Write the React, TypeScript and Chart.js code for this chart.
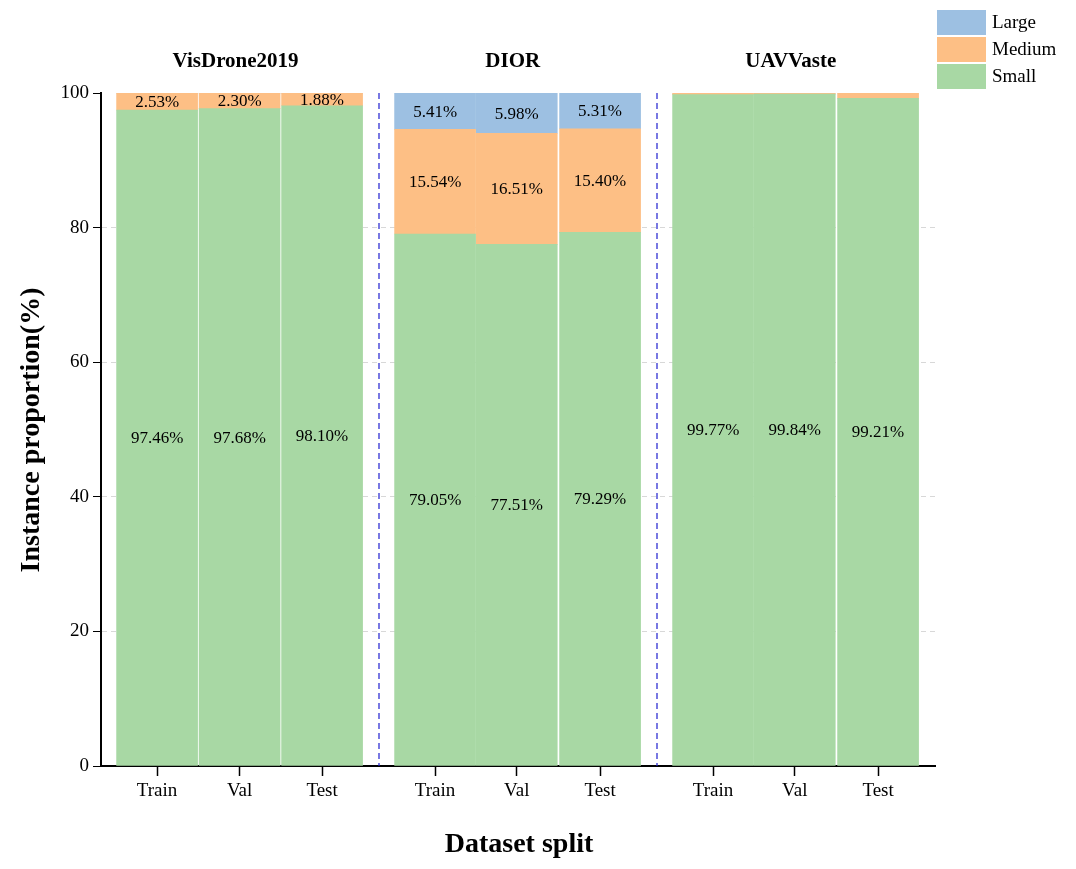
import React, { useEffect, useRef } from "react";
import { Chart, registerables } from "chart.js";
Chart.register(...registerables);

const groups = ["VisDrone2019", "DIOR", "UAVVaste"];
const splits = ["Train", "Val", "Test", "Train", "Val", "Test", "Train", "Val", "Test"];
const xPositions = [0.68, 1.68, 2.68, 4.05, 5.04, 6.05, 7.42, 8.41, 9.42];
const separators = [3.37, 6.74];
const smallVals = [97.46, 97.68, 98.1, 79.05, 77.51, 79.29, 99.77, 99.84, 99.21];
const mediumVals = [2.53, 2.3, 1.88, 15.54, 16.51, 15.4, 0.23, 0.16, 0.79];
const largeVals = [0.01, 0.02, 0.02, 5.41, 5.98, 5.31, 0, 0, 0];
const smallLabels = ["97.46%", "97.68%", "98.10%", "79.05%", "77.51%", "79.29%", "99.77%", "99.84%", "99.21%"];
const mediumLabels = ["2.53%", "2.30%", "1.88%", "15.54%", "16.51%", "15.40%", "", "", ""];
const largeLabels = ["", "", "", "5.41%", "5.98%", "5.31%", "", "", ""];

const SERIF = "'Liberation Serif', 'Times New Roman', serif";
const colors = { Small: "#a8d8a4", Medium: "#fdbf85", Large: "#9dc0e2" };

export default function App() {
  const ref = useRef<HTMLCanvasElement>(null);
  useEffect(() => {
    const pts = (vals: number[]) => vals.map((v, i) => ({ x: xPositions[i], y: v }));
    const labelSets = [smallLabels, mediumLabels, largeLabels];
    const plugin = {
      id: "extras",
      afterDatasetsDraw(chart: any) {
        const ctx = chart.ctx;
        const xs = chart.scales.x;
        const ca = chart.chartArea;
        ctx.save();
        ctx.strokeStyle = "#2020d0";
        ctx.lineWidth = 1.2;
        ctx.setLineDash([6, 4]);
        separators.forEach((s) => {
          const x = xs.getPixelForValue(s);
          ctx.beginPath(); ctx.moveTo(x, ca.top); ctx.lineTo(x, ca.bottom); ctx.stroke();
        });
        ctx.setLineDash([]);
        ctx.fillStyle = "#000";
        ctx.font = `17px ${SERIF}`;
        ctx.textAlign = "center"; ctx.textBaseline = "middle";
        chart.data.datasets.forEach((_ds: any, di: number) => {
          const meta = chart.getDatasetMeta(di);
          meta.data.forEach((bar: any, i: number) => {
            const t = labelSets[di][i];
            if (!t) return;
            ctx.fillText(t, bar.x, (bar.y + bar.base) / 2 + 1);
          });
        });
        ctx.font = `bold 21px ${SERIF}`;
        for (let g = 0; g < 3; g++) {
          const x = xs.getPixelForValue(xPositions[g * 3 + 1]);
          ctx.fillText(groups[g], x - 4, 62);
        }
        ctx.font = `bold 28px ${SERIF}`;
        ctx.fillText("Dataset split", 519, 845);
        ctx.save();
        ctx.translate(32, 430); ctx.rotate(-Math.PI / 2);
        ctx.fillText("Instance proportion(%)", 0, 0);
        ctx.restore();
        const items: [string, string][] = [["Large", colors.Large], ["Medium", colors.Medium], ["Small", colors.Small]];
        ctx.font = `19px ${SERIF}`;
        ctx.textAlign = "left";
        items.forEach(([n, c], i) => {
          const y = 10 + i * 27;
          ctx.fillStyle = c; ctx.fillRect(937, y, 49, 25);
          ctx.fillStyle = "#000"; ctx.fillText(n, 992, y + 13);
        });
        ctx.restore();
      },
    };
    const chart = new Chart(ref.current!, {
      type: "bar",
      data: {
        datasets: [
          { label: "Small", data: pts(smallVals), backgroundColor: colors.Small },
          { label: "Medium", data: pts(mediumVals), backgroundColor: colors.Medium },
          { label: "Large", data: pts(largeVals), backgroundColor: colors.Large },
        ] as any,
      },
      options: {
        animation: false,
        responsive: false,
        layout: { padding: { top: 93, right: 141, left: 0, bottom: 0 } },
        datasets: { bar: { barThickness: 81, borderWidth: 0 } } as any,
        plugins: { legend: { display: false }, tooltip: { enabled: false } },
        scales: {
          x: {
            type: "linear", stacked: true, min: 0, max: 10.11, offset: false,
            afterBuildTicks: (s: any) => { s.ticks = xPositions.map((v) => ({ value: v })); },
            afterFit: (s: any) => { s.height = 103; },
            ticks: {
              autoSkip: false, color: "#000", font: { family: SERIF, size: 19 }, padding: 4,
              callback: (_v: any, i: number) => splits[i],
            },
            grid: { offset: false, drawOnChartArea: false, tickLength: 10, color: "#000", tickWidth: 1.5 },
            border: { color: "#000", width: 2 },
          },
          y: {
            stacked: true, min: 0, max: 100,
            afterFit: (s: any) => { s.width = 101; },
            ticks: { stepSize: 20, color: "#000", font: { family: SERIF, size: 19 }, padding: 4 },
            grid: {
              tickLength: 8,
              color: (c: any) => (c.tick && (c.tick.value === 0 || c.tick.value === 100) ? "rgba(0,0,0,0)" : "#d8d8d8"),
              tickColor: "#000",
            } as any,
            border: { color: "#000", width: 2, dash: [5, 4] } as any,
          },
        },
      } as any,
      plugins: [plugin],
    });
    return () => chart.destroy();
  }, []);
  return (
    <div style={{ position: "fixed", left: 0, top: 0, width: 1076, height: 869, background: "#fff" }}>
      <canvas ref={ref} width={1076} height={869} style={{ width: 1076, height: 869 }} />
    </div>
  );
}
